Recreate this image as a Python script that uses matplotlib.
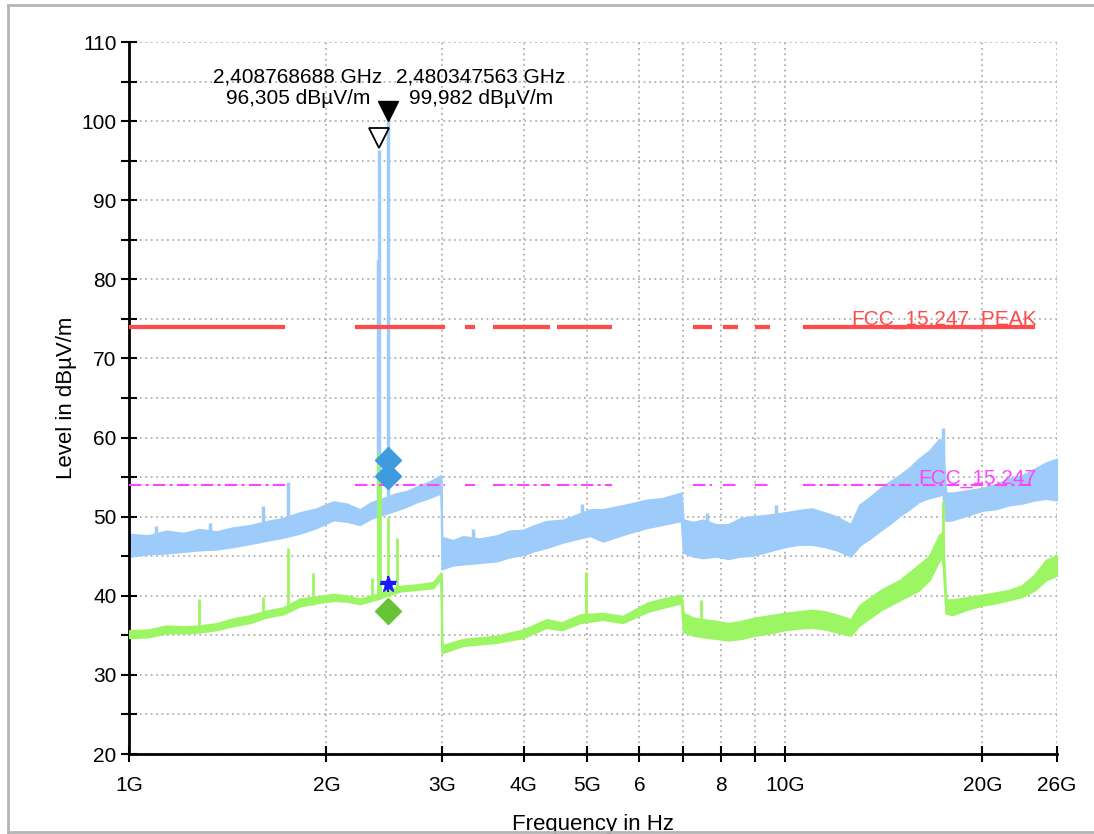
import numpy as np
import matplotlib
matplotlib.use("Agg")
import matplotlib.pyplot as plt
from matplotlib.ticker import FixedLocator, NullLocator, MultipleLocator
from matplotlib.lines import Line2D

plt.rcParams['font.family'] = ['Liberation Sans', 'DejaVu Sans']

# Peak trace (blue) envelope, frequency in GHz
pk_f  = [1.00, 1.07, 1.14, 1.21, 1.28, 1.36, 1.44, 1.53, 1.62, 1.72, 1.82, 1.93, 2.05, 2.15, 2.25, 2.34, 2.44, 2.55, 2.65, 2.75, 2.87, 2.99,
         3.00, 3.12, 3.23, 3.42, 3.64, 3.80, 3.99, 4.15, 4.33, 4.60, 4.87, 5.05, 5.28, 5.50, 5.80, 6.15, 6.50, 6.95,
         7.00, 7.25, 7.50, 7.85, 8.20, 8.55, 8.90, 9.40, 10.0, 10.5, 11.0, 11.5, 12.0, 12.6, 13.0, 13.5, 14.0, 14.5, 15.0, 15.5, 16.0, 16.6, 17.2, 17.4,
         17.6, 18.0, 19.0, 20.0, 21.0, 22.0, 23.0, 24.0, 25.0, 26.0]
pk_hi = [47.8, 47.6, 48.2, 47.9, 48.4, 48.1, 48.6, 48.9, 49.4, 49.8, 50.5, 51.0, 51.9, 51.6, 50.9, 51.8, 52.3, 52.9, 53.2, 53.8, 54.4, 55.2,
         47.4, 47.0, 47.5, 47.2, 47.6, 48.2, 48.3, 48.9, 49.4, 49.6, 50.4, 50.9, 50.9, 51.2, 51.6, 52.1, 52.3, 53.0,
         49.6, 49.3, 49.6, 49.0, 49.0, 49.8, 50.0, 50.2, 50.5, 50.8, 51.0, 50.5, 50.0, 49.0, 51.5, 52.5, 53.6, 54.5, 55.3, 56.2, 57.3, 58.3, 59.8, 59.5,
         53.0, 53.0, 53.3, 53.6, 54.1, 54.8, 55.2, 56.0, 56.8, 57.3]
pk_lo = [45.0, 45.3, 45.4, 45.6, 45.8, 45.9, 46.2, 46.6, 47.0, 47.4, 47.9, 48.6, 49.6, 49.4, 49.0, 49.8, 50.3, 50.8, 51.3, 51.9, 52.4, 53.0,
         43.4, 43.9, 44.0, 44.2, 44.4, 44.9, 45.2, 45.7, 46.1, 46.8, 47.3, 47.6, 46.9, 47.4, 48.0, 48.6, 49.0, 49.5,
         45.5, 45.0, 44.8, 45.0, 44.7, 45.0, 45.1, 45.6, 46.2, 46.5, 46.5, 46.2, 45.8, 45.0, 46.4, 47.3, 48.3, 49.2, 50.2, 51.0, 51.9, 52.4, 52.7, 53.0,
         49.5, 49.6, 50.2, 50.8, 51.0, 51.5, 51.7, 52.1, 52.3, 52.1]

# Peak trace spikes
pk_spike_f    = [1.10, 1.33, 1.60, 1.75, 2.40, 2.4088, 2.4803, 3.35, 4.90, 7.60, 9.70, 17.45]
pk_spike_base = [47.0, 47.5, 48.0, 49.0, 50.0, 51.0, 51.5, 46.0, 49.0, 47.0, 48.0, 57.0]
pk_spike_top  = [48.8, 49.2, 51.3, 54.4, 82.4, 96.3, 99.98, 48.5, 51.6, 50.5, 51.5, 61.2]

# Average trace (green) envelope
av_f  = [1.00, 1.07, 1.14, 1.21, 1.28, 1.36, 1.44, 1.53, 1.62, 1.72, 1.82, 1.93, 2.05, 2.15, 2.25, 2.39, 2.59, 2.75, 2.91, 2.99,
         3.00, 3.23, 3.42, 3.64, 3.80, 3.99, 4.33, 4.57, 4.87, 5.28, 5.66, 6.17, 6.50, 6.95,
         7.00, 7.25, 7.50, 7.85, 8.20, 8.60, 9.00, 9.50, 10.0, 10.5, 11.0, 11.5, 12.0, 12.6, 13.0, 14.0, 15.0, 16.0, 16.6, 17.2, 17.4,
         17.6, 18.0, 19.0, 20.0, 21.0, 22.0, 23.0, 24.0, 25.0, 26.0]
av_hi = [35.6, 35.7, 36.2, 36.1, 36.2, 36.5, 37.1, 37.5, 38.1, 38.5, 39.6, 39.9, 40.2, 40.0, 39.6, 40.2, 41.2, 41.4, 41.7, 42.9,
         33.7, 34.5, 34.7, 34.9, 35.3, 35.7, 37.0, 36.6, 37.6, 37.8, 37.4, 39.1, 39.6, 40.1,
         37.8, 37.2, 37.0, 36.8, 36.5, 36.8, 37.2, 37.5, 37.8, 38.0, 38.2, 38.0, 37.6, 37.0, 38.8, 40.7, 42.0, 43.9, 45.0, 47.7, 48.0,
         39.5, 39.5, 39.8, 40.1, 40.4, 40.7, 41.3, 42.6, 44.5, 45.1]
av_lo = [34.7, 34.8, 35.3, 35.3, 35.4, 35.7, 36.2, 36.6, 37.3, 37.7, 38.7, 39.1, 39.4, 39.3, 39.0, 39.6, 40.6, 40.8, 41.0, 42.3,
         32.8, 33.7, 33.9, 34.1, 34.4, 34.7, 36.0, 35.7, 36.6, 37.0, 36.6, 38.0, 38.5, 39.1,
         35.5, 35.0, 34.8, 34.6, 34.4, 34.6, 35.0, 35.3, 35.7, 35.9, 36.0, 35.8, 35.4, 35.0, 36.3, 38.2, 39.5, 40.7, 42.0, 44.5, 44.8,
         37.8, 37.6, 38.3, 38.8, 39.1, 39.5, 39.9, 40.7, 42.0, 42.6]

av_spike_f    = [1.28, 1.60, 1.75, 1.91, 2.35, 2.40, 2.41, 2.48, 2.56, 4.98, 7.44, 17.45]
av_spike_base = [35.5, 37.5, 38.0, 38.8, 39.6, 39.6, 39.6, 40.0, 40.5, 37.0, 36.0, 44.0]
av_spike_top  = [39.6, 39.8, 46.0, 42.9, 42.2, 58.0, 55.0, 50.0, 47.3, 43.0, 39.5, 52.0]

# Limit lines
peak_limit = 74.0
avg_limit = 54.0
limit_segments = [(1.0, 1.729), (2.211, 3.032), (3.253, 3.370), (3.589, 4.385),
                  (4.494, 5.450), (7.242, 7.741), (8.046, 8.482), (9.002, 9.490),
                  (10.66, 24.06)]

# Markers
mk1_f, mk1_v = 2.408768688, 96.305
mk2_f, mk2_v = 2.480347563, 99.982
final_f = 2.4803
final_peak = [57.2, 55.1]
final_avg = 38.1
final_star = 41.5

xticks = [1, 2, 3, 4, 5, 6, 7, 8, 9, 10, 20, 26]
xtick_labels = ['1G', '2G', '3G', '4G', '5G', '6', '', '8', '', '10G', '20G', '26G']

blue = '#9dcbfa'
green = '#9cf563'
red = '#ff4b4b'
magenta = '#ff44ff'

fig = plt.figure(figsize=(10.94, 8.34), dpi=100)
ax = fig.add_axes([0.1179, 0.0959, 0.8483, 0.8537])

ax.fill_between(pk_f, pk_lo, pk_hi, color=blue, lw=1.5, edgecolor=blue, zorder=2)
ax.vlines(pk_spike_f, pk_spike_base, pk_spike_top, color=blue, lw=2.5, zorder=2)
ax.fill_between(av_f, av_lo, av_hi, color=green, lw=1.5, edgecolor=green, zorder=3)
ax.vlines(av_spike_f, av_spike_base, av_spike_top, color=green, lw=2, zorder=3)

for a, b in limit_segments:
    ax.plot([a, b], [peak_limit, peak_limit], color=red, lw=3, solid_capstyle='butt', zorder=4)
    ax.plot([a, b], [avg_limit, avg_limit], color=magenta, lw=1.5,
            dashes=(6, 2, 1.5, 2), zorder=4)

ax.text(12.61, peak_limit + 0.3, 'FCC_15.247_PEAK', color=red, fontsize=15,
        va='baseline', ha='left', zorder=5)
ax.text(15.95, avg_limit + 0.2, 'FCC_15.247', color=magenta, fontsize=15,
        va='baseline', ha='left', zorder=5)

# marker symbols
ax.plot([mk1_f], [mk1_v + 1.6], marker='v', ms=15, mfc='white', mec='black', mew=1.3, zorder=6)
ax.plot([mk2_f], [mk2_v + 1.3], marker='v', ms=15, mfc='black', mec='black', zorder=6)
ax.plot([final_f] * 2, final_peak, ls='none', marker='D', ms=13, color='#3f9be0', zorder=6)
ax.plot([final_f], [final_avg], marker='D', ms=13, color='#66c436', zorder=6)
ax.plot([final_f], [final_star], marker='*', ms=12, color='#1a1aff', zorder=6)
ax.plot([final_f], [final_star], marker='+', ms=12, mew=1.5, color='#1a1aff', zorder=6)

ax.text(1.81, 104.2, '2,408768688 GHz\n96,305 dBµV/m', ha='center', va='center',
        fontsize=15, linespacing=1.2, zorder=7)
ax.text(3.44, 104.2, '2,480347563 GHz\n99,982 dBµV/m', ha='center', va='center',
        fontsize=15, linespacing=1.2, zorder=7)

ax.set_xscale('log')
ax.set_xlim(1, 26)
ax.set_ylim(20, 110)
ax.xaxis.set_major_locator(FixedLocator(xticks))
ax.xaxis.set_minor_locator(NullLocator())
ax.set_xticklabels(xtick_labels)
ax.yaxis.set_major_locator(MultipleLocator(10))
ax.yaxis.set_minor_locator(MultipleLocator(5))

ax.grid(True, which='both', color='#b0b0b0', linestyle=(0, (1, 2)), lw=1.3)
ax.set_axisbelow(True)

for s in ['top', 'right']:
    ax.spines[s].set_visible(False)
for s in ['left', 'bottom']:
    ax.spines[s].set_linewidth(2)

ax.tick_params(which='both', direction='inout', length=11, width=1.5, labelsize=15)
ax.tick_params(axis='x', pad=10)

ax.set_xlabel('Frequency in Hz', fontsize=16, labelpad=14)
ax.set_ylabel('Level in dBµV/m', fontsize=16, labelpad=3)

# outer frame
fc = '#b5b5b5'
fig.add_artist(Line2D([0.0073, 0.0073], [0.0024, 0.994], color=fc, lw=2))
fig.add_artist(Line2D([0.0073, 1.0], [0.994, 0.994], color=fc, lw=2))
fig.add_artist(Line2D([0.0073, 1.0], [0.0024, 0.0024], color=fc, lw=2))

fig.savefig('out.png', dpi=100)
